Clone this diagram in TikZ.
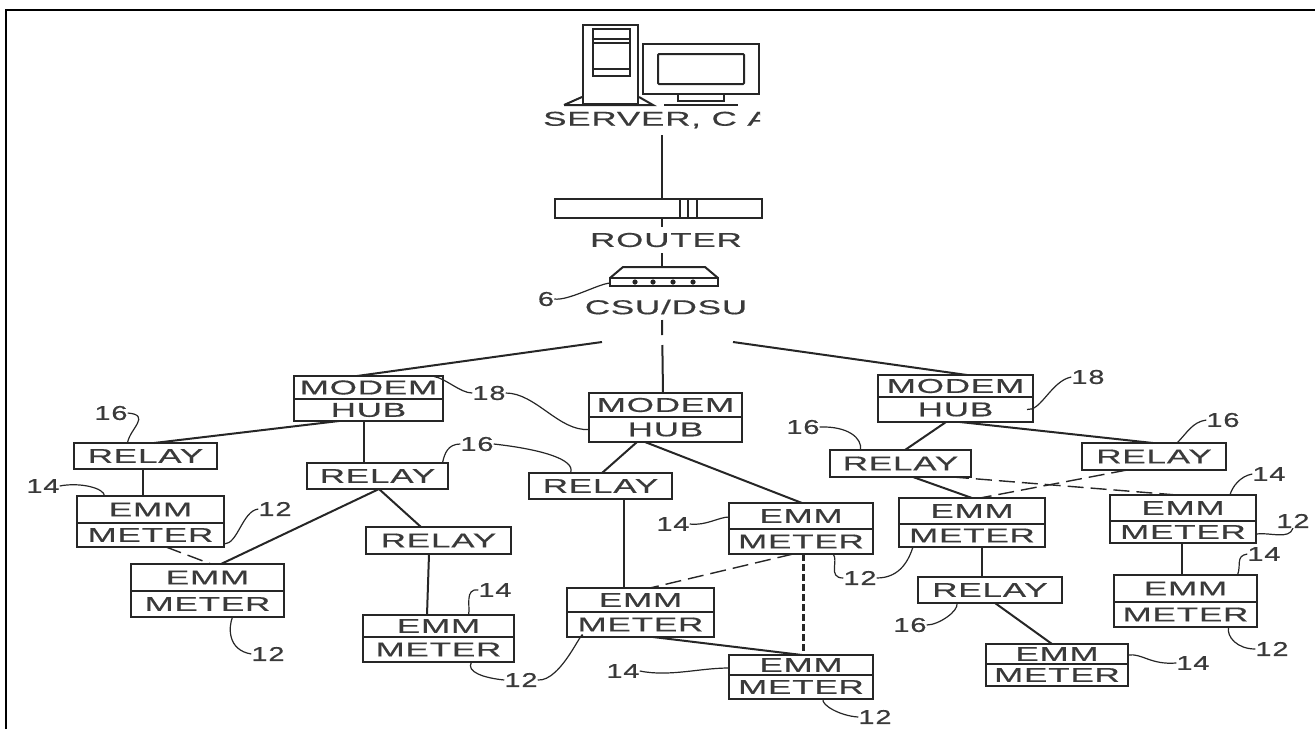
\documentclass[tikz,border=0pt]{standalone}
\usepackage{fontspec}
\setmainfont[FakeStretch=1.75,LetterSpace=4,FakeBold=0.5]{Liberation Sans}
\newfontfamily\numfont[FakeStretch=1.45,LetterSpace=4,FakeBold=0.5]{Liberation Sans}
\usepackage{xcolor}
\definecolor{inkcolor}{HTML}{262626}
\definecolor{textcolor}{HTML}{3a3a3a}
\usetikzlibrary{positioning,arrows.meta}
\tikzset{
    cell/.style={
        rectangle,
        draw=inkcolor,
        fill=white,
        text=textcolor,
        outer sep=0pt,
        inner sep=0pt,
        line width=2.5pt,
        align=center,
        font=\fontsize{20}{20}\selectfont,
    },
    tag/.style={
        text=textcolor,
        inner sep=0pt,
        font=\fontsize{20}{20}\selectfont,
    },
    numtag/.style={
        tag,
        font=\fontsize{20}{20}\numfont,
    },
    link/.style={
        draw=inkcolor,
        line width=2pt,
    },
    dashlink/.style={
        draw=inkcolor,
        line width=1.4pt,
        dash pattern=on 16pt off 7pt,
    },
    leader/.style={
        draw=inkcolor,
        line width=1.2pt,
    },
    sketch/.style={
        draw=inkcolor,
        line width=2pt,
    },
}
\begin{document}
\begin{tikzpicture}[x=1pt,y=-1pt]
    \useasboundingbox (0,0) rectangle (1315,729);
    \draw[black,line width=2.6pt] (6,729) -- (6,10) -- (1315,10);

    % server
    \node[sketch,draw,fill=white,inner sep=0pt,anchor=north west,minimum width=55pt,minimum height=79pt] (tower) at (582,24) {};
    \node[sketch,draw,inner sep=0pt,anchor=north west,minimum width=37pt,minimum height=47pt] (bay) at (592,28) {};
    \draw[sketch] ([yshift=-11pt]bay.north west) -- ([yshift=-11pt]bay.north east);
    \draw[sketch] ([yshift=-15pt]bay.north west) -- ([yshift=-15pt]bay.north east);
    \draw[sketch] ([yshift=8pt]bay.south west) -- ([yshift=8pt]bay.south east);
    \draw[sketch] ([xshift=-18pt]tower.south west) -- ([yshift=8pt]tower.south west);
    \draw[sketch] ([xshift=-18pt]tower.south west) -- (tower.south east) -- ([xshift=14pt]tower.south east) -- ([yshift=8pt]tower.south east);
    \node[sketch,draw,inner sep=0pt,anchor=north west,minimum width=116pt,minimum height=50pt] (monitor) at (642,43) {};
    \node[sketch,draw,rounded corners=1pt,inner sep=0pt,anchor=north west,minimum width=86pt,minimum height=30pt] (screen) at (657,53) {};
    \draw[sketch] ([xshift=-23pt]monitor.south) -- ([xshift=-23pt,yshift=-6pt]monitor.south) -- ([xshift=23pt,yshift=-6pt]monitor.south) -- ([xshift=23pt]monitor.south);
    \draw[sketch] ([xshift=-37pt,yshift=-10pt]monitor.south) -- ([xshift=37pt,yshift=-10pt]monitor.south);
    \begin{scope}
        \clip (530,105) rectangle (760,135);
        \node[tag,anchor=west] (serverLbl) at (543,120) {SERVER, C A};
    \end{scope}

    % router
    \coordinate (serverTap) at (662,135);
    \node[cell,anchor=north west,minimum width=207pt,minimum height=19pt] (router) at (555,199) {};
    \draw[sketch] ([xshift=125pt]router.north west) -- ([xshift=125pt]router.south west);
    \draw[sketch] ([xshift=133pt]router.north west) -- ([xshift=133pt]router.south west);
    \draw[sketch] ([xshift=142pt]router.north west) -- ([xshift=142pt]router.south west);
    \node[tag] (routerLbl) at (666,240) {ROUTER};
    \draw[link] (serverTap) -- ([xshift=3.5pt]router.north);
    \draw[link] ([xshift=3.5pt]router.south) -- ([xshift=-4pt,yshift=6pt]routerLbl.north);

    % csu/dsu
    \node[cell,anchor=north west,minimum width=108pt,minimum height=8pt] (csu) at (610,278) {};
    \draw[sketch] (csu.north west) -- ([xshift=13pt,yshift=11pt]csu.north west) -- ([xshift=-13pt,yshift=11pt]csu.north east) -- (csu.north east);
    \foreach \dotx in {25,43,63,83} {
        \fill[inkcolor] ([xshift=\dotx pt,yshift=-4pt]csu.north west) circle (2.6pt);
    }
    \node[tag] (csuLbl) at (666,307) {CSU/DSU};
    \node[numtag] (csuTag) at (546,299) {6};
    \draw[link] ([xshift=-4pt,yshift=-6pt]routerLbl.south) -- ([xshift=-2pt,yshift=11pt]csu.north);
    \draw[leader] (csuTag.east) .. controls +(14,2) and +(-12,1) .. ([yshift=-1pt]csu.west);
    \coordinate (csuLeft) at (602,342);
    \coordinate (csuRight) at (733,342);
    \coordinate (csuTap) at (662,320);

    % modem hubs
    \node[cell,anchor=north west,minimum width=149pt,minimum height=23pt] (hubAtop) at (294,376) {MODEM};
    \node[cell,minimum width=149pt,minimum height=22pt,below=0pt of hubAtop] (hubAbot) {HUB};
    \node[cell,anchor=north west,minimum width=153pt,minimum height=24pt] (hubBtop) at (589,393) {MODEM};
    \node[cell,minimum width=153pt,minimum height=25pt,below=0pt of hubBtop] (hubBbot) {HUB};
    \node[cell,anchor=north west,minimum width=155pt,minimum height=22pt] (hubCtop) at (878,375) {MODEM};
    \node[cell,minimum width=155pt,minimum height=25pt,below=0pt of hubCtop] (hubCbot) {HUB};

    % relays
    \node[cell,anchor=north west,minimum width=143pt,minimum height=26pt] (relayA) at (74,443) {RELAY};
    \node[cell,anchor=north west,minimum width=141pt,minimum height=26pt] (relayB) at (307,463) {RELAY};
    \node[cell,anchor=north west,minimum width=145pt,minimum height=27pt] (relayC) at (366,527) {RELAY};
    \node[cell,anchor=north west,minimum width=143pt,minimum height=26pt] (relayD) at (529,473) {RELAY};
    \node[cell,anchor=north west,minimum width=141pt,minimum height=27pt] (relayE) at (830,450) {RELAY};
    \node[cell,anchor=north west,minimum width=144pt,minimum height=27pt] (relayF) at (1082,443) {RELAY};
    \node[cell,anchor=north west,minimum width=144pt,minimum height=26pt] (relayG) at (918,577) {RELAY};

    % emm meters
    \node[cell,anchor=north west,minimum width=147pt,minimum height=27pt] (emmAtop) at (77,496) {EMM};
    \node[cell,minimum width=147pt,minimum height=24pt,below=0pt of emmAtop] (emmAbot) {METER};
    \node[cell,anchor=north west,minimum width=153pt,minimum height=27pt] (emmBtop) at (131,564) {EMM};
    \node[cell,minimum width=153pt,minimum height=26pt,below=0pt of emmBtop] (emmBbot) {METER};
    \node[cell,anchor=north west,minimum width=151pt,minimum height=22pt] (emmCtop) at (363,615) {EMM};
    \node[cell,minimum width=151pt,minimum height=25pt,below=0pt of emmCtop] (emmCbot) {METER};
    \node[cell,anchor=north west,minimum width=144pt,minimum height=26pt] (emmDtop) at (729,503) {EMM};
    \node[cell,minimum width=144pt,minimum height=25pt,below=0pt of emmDtop] (emmDbot) {METER};
    \node[cell,anchor=north west,minimum width=147pt,minimum height=24pt] (emmEtop) at (567,588) {EMM};
    \node[cell,minimum width=147pt,minimum height=25pt,below=0pt of emmEtop] (emmEbot) {METER};
    \node[cell,anchor=north west,minimum width=144pt,minimum height=20pt] (emmFtop) at (729,655) {EMM};
    \node[cell,minimum width=144pt,minimum height=24pt,below=0pt of emmFtop] (emmFbot) {METER};
    \node[cell,anchor=north west,minimum width=146pt,minimum height=26pt] (emmGtop) at (899,498) {EMM};
    \node[cell,minimum width=146pt,minimum height=23pt,below=0pt of emmGtop] (emmGbot) {METER};
    \node[cell,anchor=north west,minimum width=146pt,minimum height=26pt] (emmHtop) at (1110,495) {EMM};
    \node[cell,minimum width=146pt,minimum height=22pt,below=0pt of emmHtop] (emmHbot) {METER};
    \node[cell,anchor=north west,minimum width=143pt,minimum height=27pt] (emmItop) at (1114,575) {EMM};
    \node[cell,minimum width=143pt,minimum height=25pt,below=0pt of emmItop] (emmIbot) {METER};
    \node[cell,anchor=north west,minimum width=142pt,minimum height=20pt] (emmJtop) at (986,644) {EMM};
    \node[cell,minimum width=142pt,minimum height=22pt,below=0pt of emmJtop] (emmJbot) {METER};

    % links
    \draw[link] (csuLeft) -- ([xshift=-11.5pt]hubAtop.north);
    \draw[link] (csuRight) -- ([xshift=11.5pt]hubCtop.north);
    \draw[link,dash pattern=on 15pt off 10pt on 60pt] (csuTap) -- ([xshift=-2.5pt]hubBtop.north);
    \draw[link] ([xshift=-29.5pt]hubAbot.south) -- ([xshift=8.5pt]relayA.north);
    \draw[link] ([xshift=-4.5pt]hubAbot.south) -- ([xshift=-13.5pt]relayB.north);
    \draw[link] ([xshift=-2.5pt]relayA.south) -- ([xshift=-7.5pt]emmAtop.north);
    \draw[link] ([xshift=1.5pt]relayB.south) -- ([xshift=13.5pt]emmBtop.north);
    \draw[link] ([xshift=1.5pt]relayB.south) -- ([xshift=-17.5pt]relayC.north);
    \draw[link] ([xshift=-9.5pt]relayC.south) -- ([xshift=-11.5pt]emmCtop.north);
    \draw[dashlink] ([xshift=15.5pt]emmAbot.south) -- ([xshift=3.5pt]emmBtop.north);
    \draw[link] ([xshift=-28.5pt]hubBbot.south) -- ([xshift=1.5pt]relayD.north);
    \draw[link] ([xshift=-20.5pt]hubBbot.south) -- ([xshift=1pt]emmDtop.north);
    \draw[link] ([xshift=23.5pt]relayD.south) -- ([xshift=-16.5pt]emmEtop.north);
    \draw[dashlink] ([xshift=-8pt]emmDbot.south) -- ([xshift=9.5pt]emmEtop.north);
    \draw[draw=inkcolor,line width=3pt,dash pattern=on 7pt off 3pt] ([xshift=2pt]emmDbot.south) -- ([xshift=2pt]emmFtop.north);
    \draw[link] ([xshift=12.5pt]emmEbot.south) -- ([xshift=1pt]emmFtop.north);
    \draw[link] ([xshift=-9.5pt]hubCbot.south) -- ([xshift=4.5pt]relayE.north);
    \draw[link] ([xshift=4.5pt]hubCbot.south) -- ([xshift=-1pt]relayF.north);
    \draw[link] ([xshift=12.5pt]relayE.south) -- (emmGtop.north);
    \draw[dashlink] ([xshift=52.5pt]relayE.south) -- ([xshift=-6pt]emmHtop.north);
    \draw[dashlink] ([xshift=-27pt]relayF.south) -- ([xshift=8pt]emmGtop.north);
    \draw[link] ([xshift=10pt]emmGbot.south) -- ([xshift=-8pt]relayG.north);
    \draw[link] ([xshift=5pt]relayG.south) -- ([xshift=-5pt]emmJtop.north);
    \draw[link] ([xshift=-1pt]emmHbot.south) -- ([xshift=-3.5pt]emmItop.north);

    % reference numbers
    \node[numtag] (tagHubA) at (489,393) {18};
    \node[numtag] (tagHubC) at (1088,377) {18};
    \node[numtag] (tagRelayA) at (111,413) {16};
    \node[numtag] (tagRelayB) at (477,444) {16};
    \node[numtag] (tagRelayE) at (803,427) {16};
    \node[numtag] (tagRelayF) at (1223,420) {16};
    \node[numtag] (tagRelayG) at (910,625) {16};
    \node[numtag] (tagEmmA) at (43,486) {14};
    \node[numtag] (tagEmmC) at (495,590) {14};
    \node[numtag] (tagEmmD) at (673,524) {14};
    \node[numtag] (tagEmmF) at (623,671) {14};
    \node[numtag] (tagEmmH) at (1269,474) {14};
    \node[numtag] (tagEmmI) at (1264,554) {14};
    \node[numtag] (tagEmmJ) at (1193,663) {14};
    \node[numtag] (numEmmA) at (275,509) {12};
    \node[numtag] (numEmmB) at (268,654) {12};
    \node[numtag] (numEmmC) at (521,680) {12};
    \node[numtag] (numEmmD) at (860,578) {12};
    \node[numtag] (numEmmF) at (875,717) {12};
    \node[numtag] (numEmmH) at (1293,521) {12};
    \node[numtag] (numEmmI) at (1272,649) {12};

    % leader lines
    \draw[leader] (tagHubA.west) .. controls +(-12,0) and +(12,2) .. ([xshift=-9pt,yshift=11pt]hubAtop.east);
    \draw[leader] (tagHubA.east) .. controls +(30,0) and +(-30,2) .. (hubBbot.west);
    \draw[leader] (tagHubC.west) .. controls +(-20,4) and +(14,2) .. ([xshift=-6pt]hubCbot.east);
    \draw[leader] (tagRelayA.east) .. controls +(24,2) and +(2,-14) .. ([xshift=-18pt]relayA.north);
    \draw[leader] (tagRelayB.west) .. controls +(-12,0) and +(2,-10) .. ([xshift=65pt]relayB.north);
    \draw[leader] (tagRelayB.east) .. controls +(45,5) and +(6,-14) .. ([xshift=-30pt]relayD.north);
    \draw[leader] (tagRelayE.east) .. controls +(28,-1) and +(2,-12) .. ([xshift=-40pt]relayE.north);
    \draw[leader] (tagRelayF.west) .. controls +(-14,2) and +(10,-10) .. ([xshift=23pt]relayF.north);
    \draw[leader] (tagRelayG.east) .. controls +(12,0) and +(2,8) .. ([xshift=-33pt]relayG.south);
    \draw[leader] (tagEmmA.east) .. controls +(20,-4) and +(0,-8) .. ([xshift=-46pt]emmAtop.north);
    \draw[leader] (tagEmmC.west) .. controls +(-14,-2) and +(2,-8) .. ([xshift=30pt]emmCtop.north);
    \draw[leader] (tagEmmD.east) .. controls +(16,2) and +(-10,0) .. ([yshift=-1pt]emmDtop.west);
    \draw[leader] (tagEmmF.east) .. controls +(30,6) and +(-30,0) .. ([yshift=-3pt]emmFtop.west);
    \draw[leader] (tagEmmH.west) .. controls +(-12,2) and +(2,-8) .. ([xshift=47pt]emmHtop.north);
    \draw[leader] (tagEmmI.west) .. controls +(-12,2) and +(4,-10) .. ([xshift=52pt]emmItop.north);
    \draw[leader] (tagEmmJ.west) .. controls +(-26,2) and +(14,-2) .. ([yshift=-1pt]emmJtop.east);
    \draw[leader] (numEmmA.west) .. controls +(-16,2) and +(14,0) .. ([yshift=-9pt]emmAbot.east);
    \draw[leader] (numEmmB.west) .. controls +(-24,-4) and +(-4,10) .. ([xshift=25pt]emmBbot.south);
    \draw[leader] (numEmmC.west) .. controls +(-20,-2) and +(-6,10) .. ([xshift=33pt]emmCbot.south);
    \draw[leader] (numEmmC.east) .. controls +(24,2) and +(2,-14) .. ([xshift=-58pt]emmEbot.south);
    \draw[leader] (numEmmD.west) .. controls +(-16,0) and +(6,6) .. ([xshift=32pt]emmDbot.south);
    \draw[leader] (numEmmD.east) .. controls +(24,0) and +(-4,12) .. ([xshift=-59pt]emmGbot.south);
    \draw[leader] (numEmmF.west) .. controls +(-18,-1) and +(-2,6) .. ([xshift=22pt]emmFbot.south);
    \draw[leader] (numEmmH.south) .. controls +(-4,12) and +(14,-2) .. ([yshift=-2pt]emmHbot.east);
    \draw[leader] (numEmmI.west) .. controls +(-18,0) and +(-2,10) .. ([xshift=43pt]emmIbot.south);
\end{tikzpicture}
\end{document}
